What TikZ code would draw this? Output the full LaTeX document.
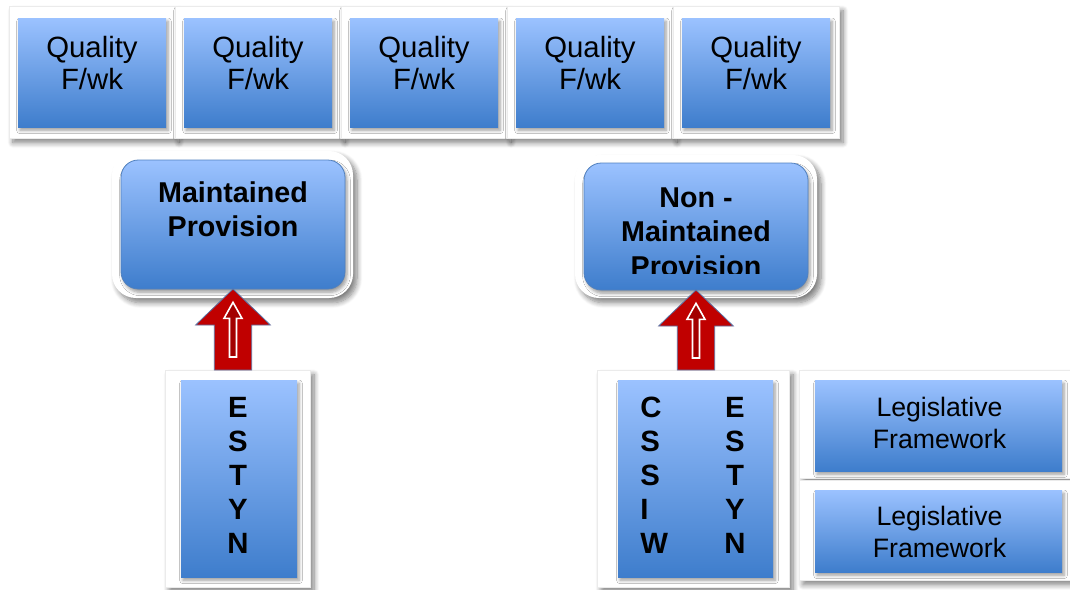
\documentclass[tikz,border=0pt]{standalone}
\usepackage{fontspec}
\setmainfont{Liberation Sans}
\usetikzlibrary{calc,shadows.blur}
\definecolor{boxtop}{RGB}{155,194,255}
\definecolor{boxbot}{RGB}{62,125,204}
\definecolor{boxline}{RGB}{80,128,190}
\definecolor{arrowred}{RGB}{192,0,0}
\definecolor{arrowline}{RGB}{90,115,165}

\begin{document}
\begin{tikzpicture}[x=0.75pt, y=-0.75pt]
    \tikzset{frame/.style={rectangle, fill=white, draw=black!8, line width=0.4pt,
        inner sep=0pt, outer sep=0pt,
        blur shadow={shadow xshift=3pt, shadow yshift=-3.5pt, shadow blur radius=4pt,
          shadow blur steps=8, shadow opacity=50}},
      roundframe/.style={frame, draw=none, rounded corners=18pt},
      bluebox/.style={rectangle, inner sep=0pt, outer sep=0pt,
        top color=boxtop, bottom color=boxbot,
        blur shadow={shadow xshift=1.5pt, shadow yshift=-2.5pt, shadow blur radius=2.5pt,
          shadow blur steps=5, shadow opacity=40}},
      roundbox/.style={bluebox, draw=boxline, line width=0.6pt, rounded corners=13pt},
      boxtext/.style={inner sep=0pt, align=center, font=\fontsize{22}{24}\selectfont},
      boldtext/.style={inner sep=0pt, align=center, font=\fontsize{21.5}{25.5}\selectfont\bfseries},
      lettertext/.style={inner sep=0pt, align=center, font=\fontsize{22}{25.5}\selectfont\bfseries},
      legtext/.style={inner sep=0pt, align=center, font=\fontsize{20}{24}\selectfont},
      fatarrow/.style={fill=arrowred, draw=arrowline, line width=0.6pt, line join=miter},
      slimarrow/.style={fill=arrowred!85!black, draw=white, line width=1.2pt}}

    \useasboundingbox (0,0) rectangle (1070,589);

    % top row
    \node[frame, minimum width=124.5pt, minimum height=99pt] (q1frame) at (92,72) {};
    \node[bluebox, minimum width=111pt, minimum height=81.75pt] (q1box) at (92,72.5) {};
    \node[boxtext] (q1text) at ($(q1box)+(0,-9.5)$) {Quality\\F/wk};
    \node[frame, minimum width=124.5pt, minimum height=99pt] (q2frame) at (258,72) {};
    \node[bluebox, minimum width=111pt, minimum height=81.75pt] (q2box) at (258,72.5) {};
    \node[boxtext] (q2text) at ($(q2box)+(0,-9.5)$) {Quality\\F/wk};
    \node[frame, minimum width=124.5pt, minimum height=99pt] (q3frame) at (424,72) {};
    \node[bluebox, minimum width=111pt, minimum height=81.75pt] (q3box) at (424,72.5) {};
    \node[boxtext] (q3text) at ($(q3box)+(0,-9.5)$) {Quality\\F/wk};
    \node[frame, minimum width=124.5pt, minimum height=99pt] (q4frame) at (590,72) {};
    \node[bluebox, minimum width=111pt, minimum height=81.75pt] (q4box) at (590,72.5) {};
    \node[boxtext] (q4text) at ($(q4box)+(0,-9.5)$) {Quality\\F/wk};
    \node[frame, minimum width=124.5pt, minimum height=99pt] (q5frame) at (756,72) {};
    \node[bluebox, minimum width=111pt, minimum height=81.75pt] (q5box) at (756,72.5) {};
    \node[boxtext] (q5text) at ($(q5box)+(0,-9.5)$) {Quality\\F/wk};

    % provision boxes
    \node[roundframe, minimum width=180.75pt, minimum height=110.25pt] (mframe) at (232.5,224.5) {};
    \node[roundbox, minimum width=168pt, minimum height=96.75pt] (mbox) at (233,224.5) {};
    \node[boldtext] (mtext) at ($(mbox)+(0,-15)$) {Maintained\\Provision};
    \node[roundframe, minimum width=181.5pt, minimum height=107.25pt] (nframe) at (696,226.5) {};
    \node[roundbox, minimum width=168pt, minimum height=95.25pt] (nbox) at (696,226.5) {};
    \begin{scope}
      \clip (nbox.north west) rectangle ($(nbox.east)+(0,46.5)$);
      \node[boldtext, font=\fontsize{21.5}{26}\selectfont\bfseries] (ntext) at ($(nbox)+(0,5.5)$) {Non -\\Maintained\\Provision};
    \end{scope}

    % inspectorates
    \node[frame, minimum width=108.75pt, minimum height=162.75pt] (eframe) at (237.5,478.5) {};
    \node[bluebox, minimum width=87pt, minimum height=147.75pt] (ebox) at (239,478.5) {};
    \node[lettertext] (etext) at ($(ebox)+(-1,-3)$) {E\\S\\T\\Y\\N};
    \node[frame, minimum width=144pt, minimum height=162.75pt] (cframe) at (693,478.5) {};
    \node[bluebox, minimum width=116.25pt, minimum height=147.75pt] (cbox) at (695.5,478.5) {};
    \node[lettertext, align=left, anchor=west] (ctext) at ($(cbox.west)+(22,-3)$) {C\\S\\S\\I\\W};
    \node[lettertext] (e2text) at ($(cbox)+(39.5,-3)$) {E\\S\\T\\Y\\N};

    % legislation
    \node[frame, minimum width=210.75pt, minimum height=81pt] (l1frame) at (939.5,424) {};
    \node[bluebox, minimum width=185.25pt, minimum height=68.25pt] (l1box) at (938.5,425.5) {};
    \node[legtext] (l1text) at ($(l1box)+(1,-3)$) {Legislative\\Framework};
    \node[frame, minimum width=210.75pt, minimum height=75pt] (l2frame) at (939.5,530) {};
    \node[bluebox, minimum width=185.25pt, minimum height=61.5pt] (l2box) at (938.5,531) {};
    \node[legtext] (l2text) at ($(l2box)+(1,0.5)$) {Legislative\\Framework};

    % block arrows
    \draw[fatarrow] let \p1=(mbox.south), \p2=(eframe.north) in
      (\x1-14pt,\y2) -- (\x1-14pt,\y1-27pt) -- (\x1-28pt,\y1-27pt) -- (\p1)
      -- (\x1+28pt,\y1-27pt) -- (\x1+14pt,\y1-27pt) -- (\x1+14pt,\y2) -- cycle;
    \draw[slimarrow] let \p1=(mbox.south) in
      (\x1-2.6pt,\y1-51pt) -- (\x1-2.6pt,\y1-22pt) -- (\x1-6.75pt,\y1-22pt) -- (\x1,\y1-10pt)
      -- (\x1+6.75pt,\y1-22pt) -- (\x1+2.6pt,\y1-22pt) -- (\x1+2.6pt,\y1-51pt) -- cycle;
    \draw[fatarrow] let \p1=(nbox.south), \p2=(cframe.north) in
      (\x1-14pt,\y2) -- (\x1-14pt,\y1-27pt) -- (\x1-28pt,\y1-27pt) -- (\p1)
      -- (\x1+28pt,\y1-27pt) -- (\x1+14pt,\y1-27pt) -- (\x1+14pt,\y2) -- cycle;
    \draw[slimarrow] let \p1=(nbox.south) in
      (\x1-2.6pt,\y1-51pt) -- (\x1-2.6pt,\y1-22pt) -- (\x1-6.75pt,\y1-22pt) -- (\x1,\y1-10pt)
      -- (\x1+6.75pt,\y1-22pt) -- (\x1+2.6pt,\y1-22pt) -- (\x1+2.6pt,\y1-51pt) -- cycle;
\end{tikzpicture}
\end{document}
